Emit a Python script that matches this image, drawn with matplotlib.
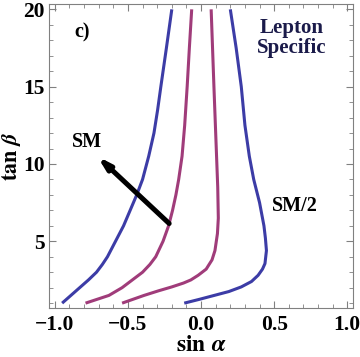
import numpy as np
import matplotlib
matplotlib.use("Agg")
import matplotlib.pyplot as plt
from matplotlib.ticker import MultipleLocator

plt.rcParams['font.family'] = ['Liberation Serif', 'DejaVu Serif']
plt.rcParams['font.weight'] = 'bold'
plt.rcParams['mathtext.fontset'] = 'stix'

# contours: (sin alpha, tan beta)
blue_left_y = [1.0, 1.5, 2.0, 2.5, 3.0, 3.5, 4.0, 5.0, 6.0, 7.0, 8.0, 9.0, 10.5, 12.0, 13.5, 15.0, 17.5, 20.0]
blue_left_x = [-0.95, -0.89, -0.83, -0.77, -0.715, -0.675, -0.64, -0.585, -0.53, -0.485, -0.44, -0.40,
               -0.358, -0.322, -0.297, -0.275, -0.237, -0.2]

mag_left_y = [1.0, 1.25, 1.5, 2.0, 2.5, 3.0, 3.5, 4.0, 4.5, 5.0, 6.0, 7.0, 8.0, 9.0, 10.5, 12.5, 15.0, 17.5, 20.0]
mag_left_x = [-0.79, -0.71, -0.63, -0.54, -0.47, -0.40, -0.35, -0.31, -0.285, -0.26, -0.222, -0.195,
              -0.172, -0.153, -0.13, -0.112, -0.095, -0.08, -0.064]

mag_right_y = [1.0, 1.2, 1.5, 1.8, 2.05, 2.3, 2.5, 2.8, 3.2, 3.8, 4.4, 5.5, 6.5, 8.5, 10.5, 15.0, 20.0]
mag_right_x = [-0.54, -0.48, -0.39, -0.29, -0.2, -0.12, -0.07, -0.02, 0.035, 0.075, 0.095, 0.112,
               0.118, 0.114, 0.106, 0.088, 0.069]

blue_right_y = [1.0, 1.25, 1.5, 1.75, 2.05, 2.4, 2.8, 3.2, 3.56, 4.4, 5.2, 6.0, 7.5, 9.0, 10.5, 12.5, 15.0, 17.5, 20.0]
blue_right_x = [-0.115, -0.01, 0.09, 0.19, 0.275, 0.345, 0.39, 0.42, 0.437, 0.447, 0.44, 0.43, 0.40,
                0.36, 0.33, 0.30, 0.275, 0.24, 0.2]

blue = '#3c3ca6'
mag = '#a03c7a'

fig = plt.figure(figsize=(3.6, 3.57), dpi=100)
ax = fig.add_axes([0.136, 0.137, 0.845, 0.852])

for xs, ys, c in [(blue_left_x, blue_left_y, blue), (mag_left_x, mag_left_y, mag),
                  (mag_right_x, mag_right_y, mag), (blue_right_x, blue_right_y, blue)]:
  ax.plot(xs, ys, color=c, lw=2.2, solid_capstyle='butt', solid_joinstyle='round')

ax.annotate('', xy=(-0.71, 10.5), xytext=(-0.218, 6.15),
            arrowprops=dict(arrowstyle='-|>,head_length=0.7,head_width=0.2', lw=3.6, color='k',
                            shrinkA=0, shrinkB=0))

ax.text(-0.78, 11.4, 'SM', fontsize=14.5, ha='center', va='center', fontweight='bold')
ax.text(0.64, 7.3, 'SM/2', fontsize=14.5, ha='center', va='center', fontweight='bold')
ax.text(-0.81, 18.5, 'c)', fontsize=14.5, ha='center', va='center', fontweight='bold')
ax.text(0.62, 18.15, 'Lepton\nSpecific', fontsize=15, ha='center', va='center',
        fontweight='bold', color='#1b1b4a', linespacing=0.95)

ax.set_xlim(-1.04, 1.04)
ax.set_ylim(0.68, 20.35)
ax.xaxis.set_major_locator(MultipleLocator(0.5))
ax.xaxis.set_minor_locator(MultipleLocator(0.1))
ax.yaxis.set_major_locator(MultipleLocator(5))
ax.yaxis.set_minor_locator(MultipleLocator(1))
ax.tick_params(which='both', direction='in', top=True, right=True, colors='#808080',
               labelcolor='k', labelsize=15.5)
ax.tick_params(which='major', length=5, width=0.8)
ax.tick_params(which='minor', length=3, width=0.6)
ax.tick_params(axis='x', pad=5)
ax.tick_params(axis='y', pad=3)
for s in ax.spines.values():
  s.set_color('#808080')

ax.set_xlabel(r'$\mathbf{sin}\ \alpha$', fontsize=17, labelpad=0)
ax.set_ylabel(r'$\mathbf{tan}\ \beta$', fontsize=16)
ax.yaxis.set_label_coords(-0.084, 0.5)

fig.savefig('out.png', dpi=100)
